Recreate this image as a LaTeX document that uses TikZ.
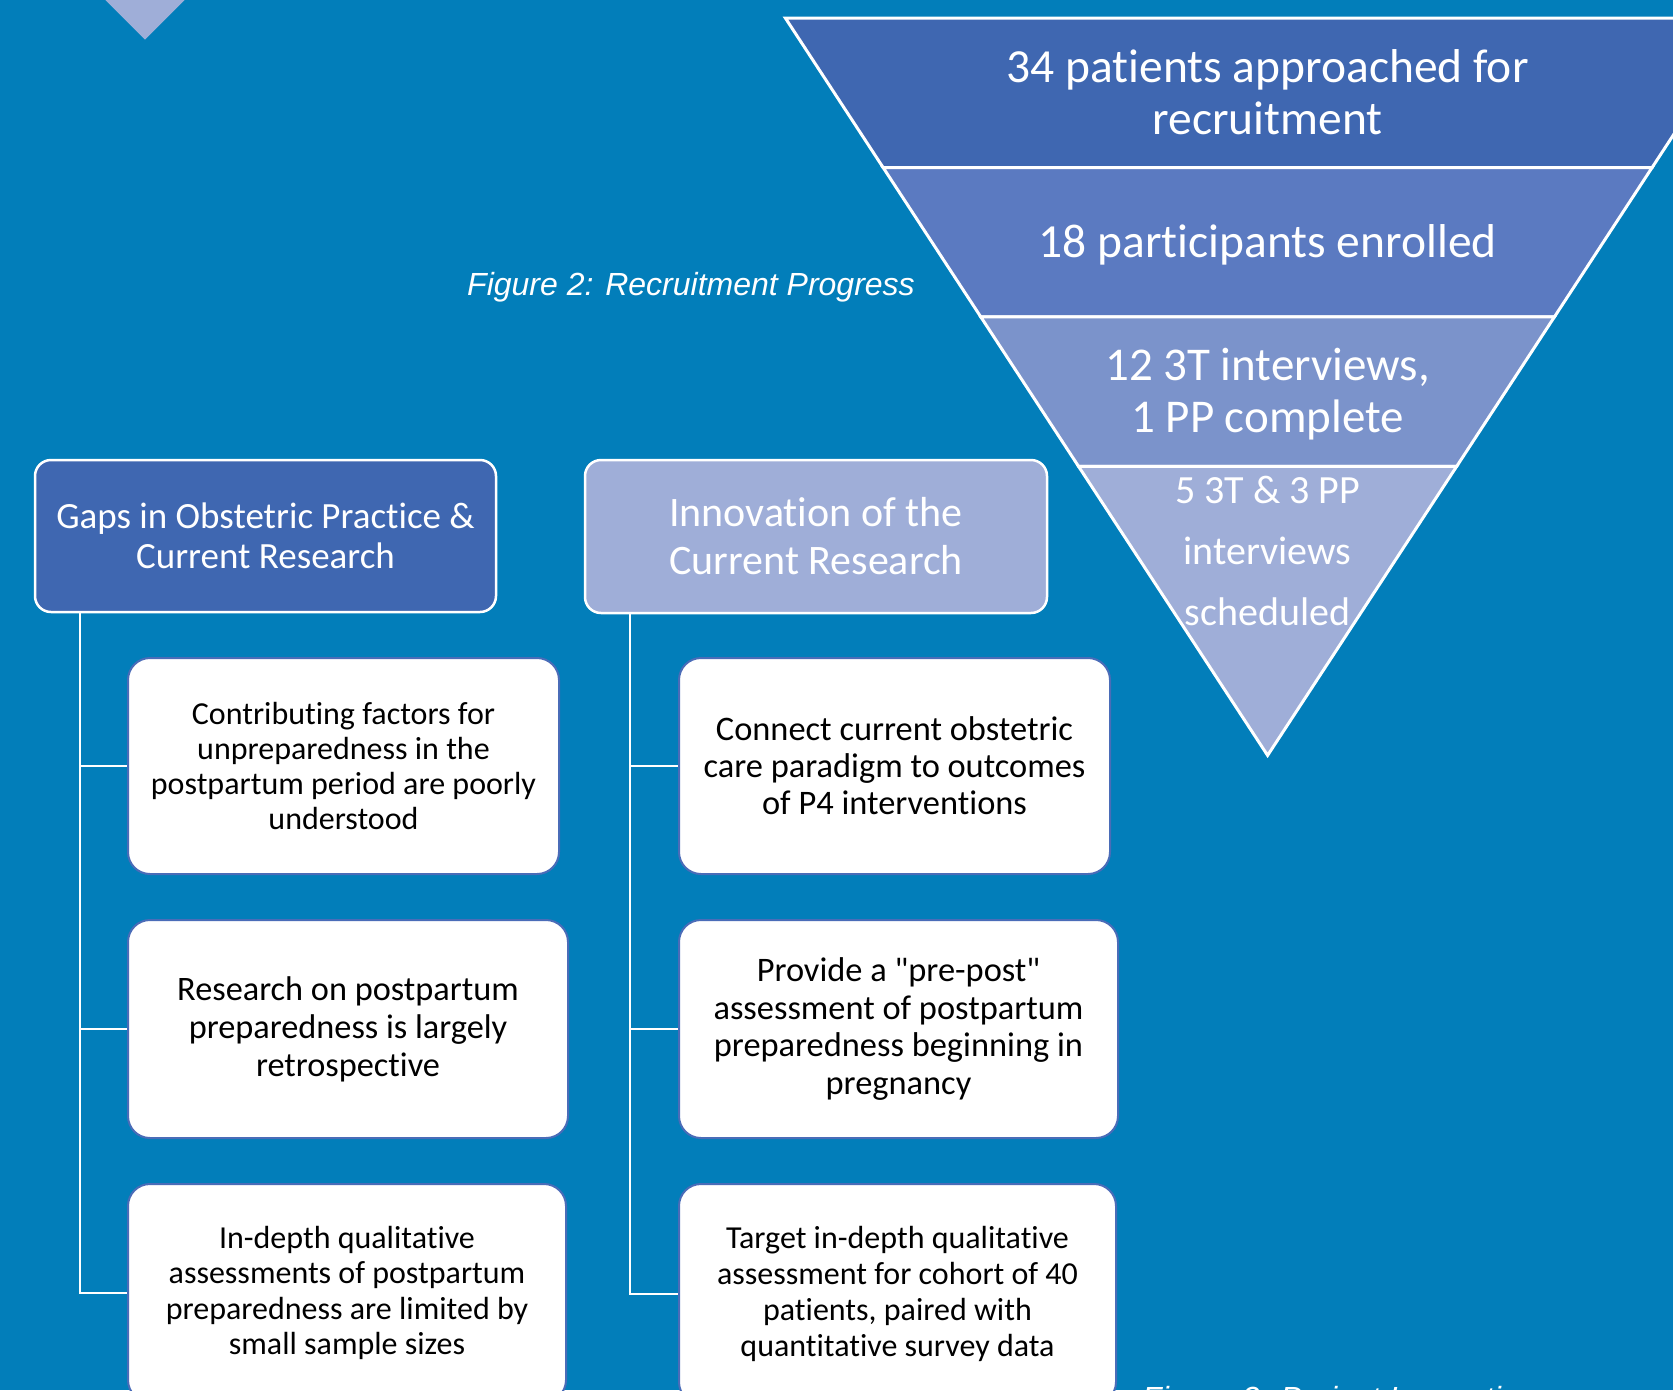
\documentclass[tikz,border=0pt]{standalone}
\usepackage{fontspec}
\setmainfont{Carlito}[Ligatures={NoCommon,TeXOff}]
\newfontfamily\capfont{Liberation Sans}
\definecolor{bg}{RGB}{2,126,186}
\definecolor{lay1}{RGB}{63,103,177}
\definecolor{lay2}{RGB}{91,122,193}
\definecolor{lay3}{RGB}{123,147,203}
\definecolor{lay4}{RGB}{159,174,216}
\definecolor{boxline}{RGB}{74,108,184}
\tikzset{
  head/.style={draw=white, line width=2.5pt, rounded corners=16pt, text=white, align=center, inner sep=0pt},
  item/.style={draw=boxline, line width=2pt, fill=white, rounded corners=22pt, text=black, align=center, inner sep=0pt},
  conn/.style={draw=white, line width=2.5pt},
  layer/.style={draw=white, line width=3pt, line join=miter},
  ftext/.style={text=white, align=center, inner sep=0pt},
  figcaption/.style={text=white, inner sep=0pt, font=\capfont\itshape\fontsize{32}{36}\selectfont}
}
\begin{document}
\begin{tikzpicture}[x=1pt,y=-1pt]
\path[use as bounding box] (0,0) rectangle (1673,1390);
\clip (0,0) rectangle (1673,1390);
\fill[bg] (0,0) rectangle (1673,1390);
% partial diamond top-left
\fill[lay4] (145,39.5) -- (186.5,-2) -- (145,-43.5) -- (103.5,-2) -- cycle;
% funnel
\filldraw[layer, fill=lay1] (785.4,18.1) -- (1749.8,18.1) -- (1652.1,167.5) -- (883.1,167.5) -- cycle;
\filldraw[layer, fill=lay2] (883.1,167.5) -- (1652.1,167.5) -- (1554.4,316.9) -- (980.8,316.9) -- cycle;
\filldraw[layer, fill=lay3] (980.8,316.9) -- (1554.4,316.9) -- (1456.7,466.3) -- (1078.5,466.3) -- cycle;
\filldraw[layer, fill=lay4] (1078.5,466.3) -- (1456.7,466.3) -- (1267.6,755.4) -- cycle;
\node[ftext, font=\fontsize{47.5}{52}\selectfont] (f1) at (1267.6,92) {34 patients approached for\\recruitment};
\node[ftext, font=\fontsize{47.5}{52}\selectfont] (f2) at (1267.6,245) {18 participants enrolled};
\node[ftext, font=\fontsize{47}{52}\selectfont] (f3) at (1267.6,394) {12 3T interviews,\\1 PP complete};
\node[ftext, font=\fontsize{40}{61}\selectfont] (f4) at (1267.6,551) {5 3T \& 3 PP\\interviews\\scheduled};
% captions
\node[figcaption, anchor=west] (cap2) at (467,287) {Figure 2: Recruitment Progress};
\node[figcaption, anchor=north west] (cap3) at (1142,1386) {Figure 3: Project Innovation};
% header boxes
\node[head, fill=lay1, minimum width=461pt, minimum height=152pt, font=\fontsize{37}{40}\selectfont] (gaps) at (265.5,536) {Gaps in Obstetric Practice \&\\Current Research};
\node[head, fill=lay4, minimum width=462pt, minimum height=153pt, font=\fontsize{42}{48}\selectfont] (innov) at (816,536.5) {Innovation of the\\Current Research};
% left items
\node[item, minimum width=431pt, minimum height=216pt, font=\fontsize{32}{35}\selectfont] (l1) at (343.5,766) {Contributing factors for\\unpreparedness in the\\postpartum period are poorly\\understood};
\node[item, minimum width=440pt, minimum height=218pt, font=\fontsize{34.3}{38}\selectfont] (l2) at (348,1029) {Research on postpartum\\preparedness is largely\\retrospective};
\node[item, minimum width=438pt, minimum height=218pt, font=\fontsize{32}{35.5}\selectfont] (l3) at (347,1293) {In-depth qualitative\\assessments of postpartum\\preparedness are limited by\\small sample sizes};
% right items
\node[item, minimum width=431pt, minimum height=216pt, font=\fontsize{34.4}{37}\selectfont] (r1) at (894.5,766) {Connect current obstetric\\care paradigm to outcomes\\of P4 interventions};
\node[item, minimum width=439pt, minimum height=218pt, font=\fontsize{34.4}{37.5}\selectfont] (r2) at (898.5,1029) {Provide a "pre-post"\\assessment of postpartum\\preparedness beginning in\\pregnancy};
\node[item, minimum width=437pt, minimum height=220pt, font=\fontsize{32}{36}\selectfont] (r3) at (897.5,1294) {Target in-depth qualitative\\assessment for cohort of 40\\patients, paired with\\quantitative survey data};
% connectors
\coordinate (gv) at ([xshift=46pt]gaps.south west);
\coordinate (iv) at ([xshift=46pt]innov.south west);
\draw[conn] (gv) |- (l1.west);
\draw[conn] (gv) |- (l2.west);
\draw[conn] (gv) |- (l3.west);
\draw[conn] (iv) |- (r1.west);
\draw[conn] (iv) |- (r2.west);
\draw[conn] (iv) |- (r3.west);
\end{tikzpicture}
\end{document}
